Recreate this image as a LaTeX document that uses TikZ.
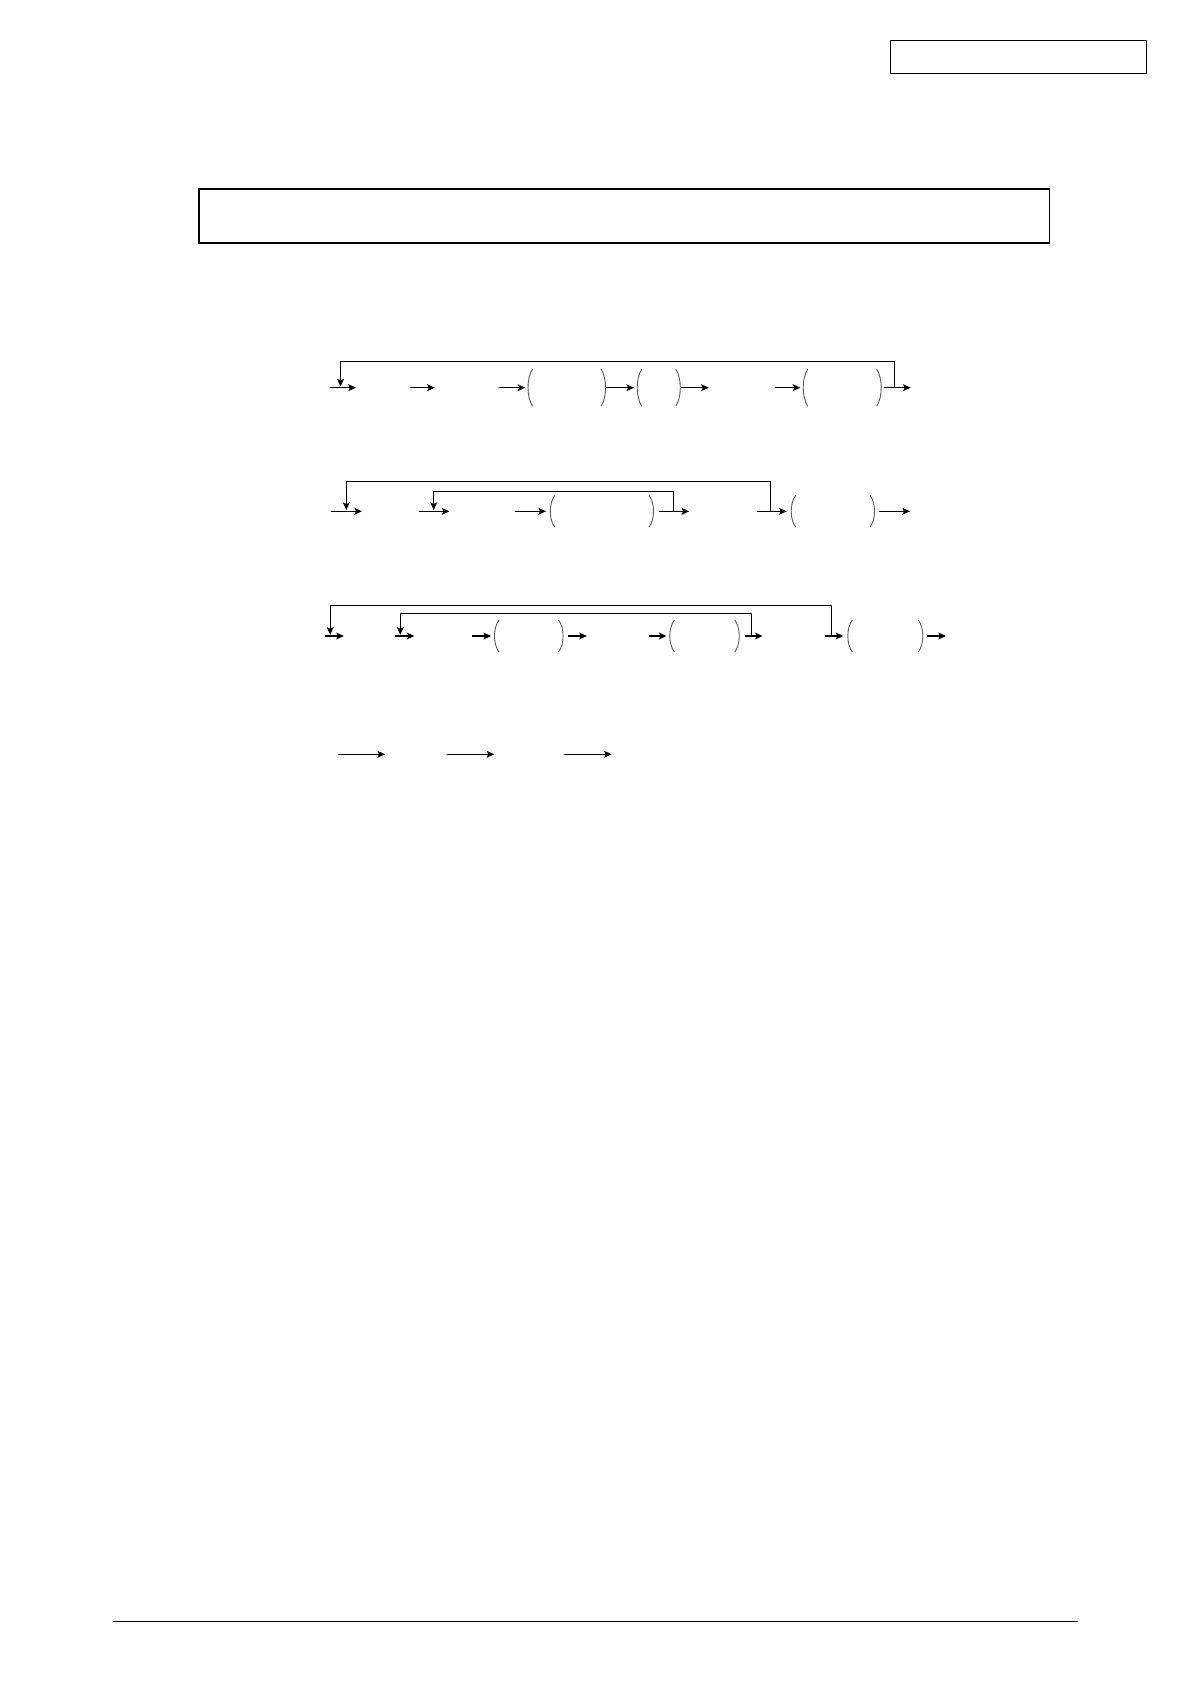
\documentclass[tikz,border=0pt]{standalone}
\usepackage{tikz}
\usetikzlibrary{arrows.meta}
\tikzset{
  flow/.style={line width=0.6pt, -{Stealth[length=3.8pt,width=3.4pt,inset=0.8pt]}},
  brack/.style={black!65, line width=0.45pt},
}
\newcommand{\openbr}[3]{\draw[brack] (#1+5,#2-#3) .. controls (#1-1,#2-#3/2) and (#1-1,#2+#3/2) .. (#1+5,#2+#3);}
\newcommand{\closebr}[3]{\draw[brack] (#1-5,#2-#3) .. controls (#1+1,#2-#3/2) and (#1+1,#2+#3/2) .. (#1-5,#2+#3);}

\begin{document}
\begin{tikzpicture}[x=0.5pt, y=-0.5pt]

        \fill[white] (0,0) rectangle (1191,1684);
        \useasboundingbox (0,0) rectangle (1191,1684);

        % page frame
        \draw[line width=0.5pt] (890.3,40.3) rectangle (1146.7,74);
        \draw[line width=0.9pt] (199,189) rectangle (1049.5,242.7);
        \draw[line width=0.6pt] (112.8,1621.3) -- (1078.3,1621.3);

        % first line
        \draw[flow] (330.2,387.7) -- (355.9,387.7);
        \draw[flow] (409.5,387.7) -- (434.8,387.7);
        \draw[flow] (499.2,387.7) -- (525.2,387.7);
        \openbr{527.5}{387.7}{18.5}
        \closebr{606.1}{387.7}{18.5}
        \draw[flow] (606.1,387.7) -- (634,387.7);
        \openbr{636.7}{387.7}{18.5}
        \closebr{680.8}{387.7}{18.5}
        \draw[flow] (681,387.7) -- (708.8,387.7);
        \draw[flow] (775,387.7) -- (800.3,387.7);
        \openbr{802.7}{387.7}{18.5}
        \closebr{881.7}{387.7}{18.5}
        \draw[flow] (884,387.7) -- (910.7,387.7);
        \draw[flow] (894.3,387.7) -- (894.3,361.3) -- (340.6,361.3) -- (340.6,386.5);

        % second line
        \draw[flow] (331,511.3) -- (362,511.3);
        \draw[flow] (419.1,511.3) -- (449.4,511.3);
        \draw[flow] (515.3,511.3) -- (546,511.3);
        \openbr{549.8}{511.3}{16}
        \closebr{654}{511.3}{16}
        \draw[flow] (658.6,511.3) -- (689.2,511.3);
        \draw[flow] (756.7,511.3) -- (786.7,511.3);
        \openbr{790.7}{511.3}{16}
        \closebr{875}{511.3}{16}
        \draw[flow] (879.3,511.3) -- (910,511.3);
        \draw[flow] (770.3,511.3) -- (770.3,481.3) -- (346.3,481.3) -- (346.3,510.1);
        \draw[flow] (673.1,511.3) -- (673.1,491.3) -- (433.7,491.3) -- (433.7,510.1);

        % third line
        \draw[flow] (325.2,636) -- (343.9,636);
        \draw[flow] (394.9,636) -- (414.4,636);
        \draw[flow] (472.4,636) -- (491.1,636);
        \openbr{494}{636}{16}
        \closebr{563.6}{636}{16}
        \draw[flow] (567.8,636) -- (586.9,636);
        \draw[flow] (648.6,636) -- (666.5,636);
        \openbr{669.3}{636}{16}
        \closebr{739.8}{636}{16}
        \draw[flow] (744.8,636) -- (762.6,636);
        \draw[flow] (825,636) -- (843.3,636);
        \openbr{847.3}{636}{16}
        \closebr{923.3}{636}{16}
        \draw[flow] (926.7,636) -- (946,636);
        \draw[flow] (831.3,636) -- (831.3,605.3) -- (330.2,605.3) -- (330.2,634.8);
        \draw[flow] (751.4,636) -- (751.4,613.3) -- (400.3,613.3) -- (400.3,634.8);

        % fourth line
        \draw[flow] (338.3,754.3) -- (385,754.3);
        \draw[flow] (447.3,754.3) -- (494.3,754.3);
        \draw[flow] (564.3,754.3) -- (611.7,754.3);

\end{tikzpicture}
\end{document}
